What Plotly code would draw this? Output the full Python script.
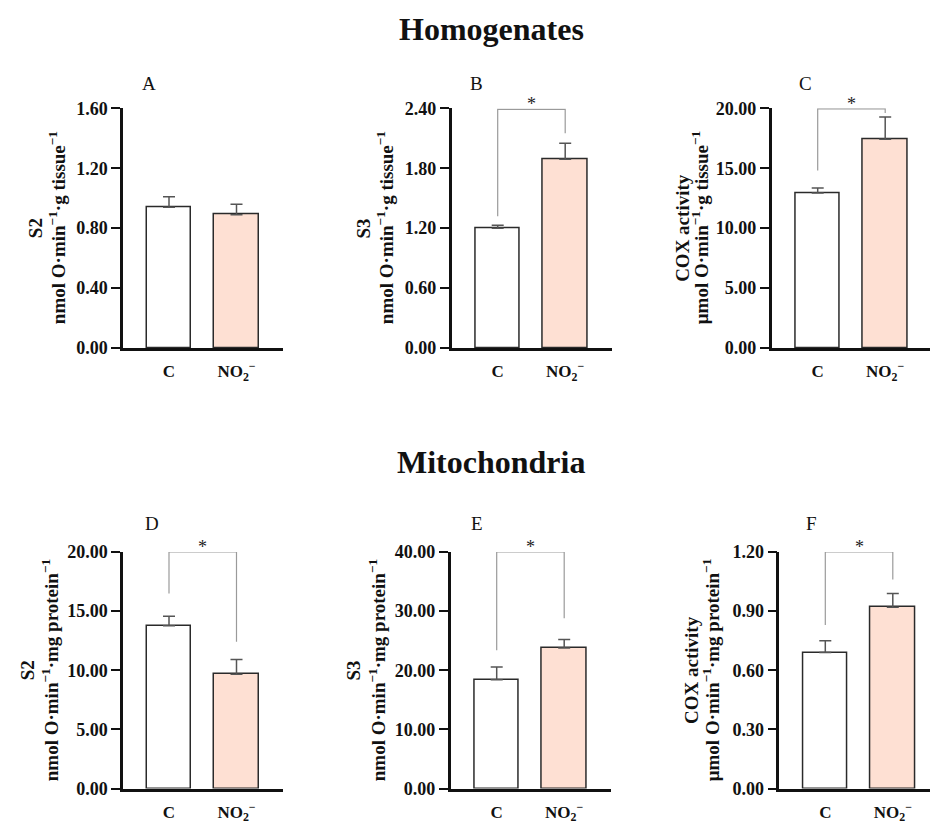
import plotly.graph_objects as go

W, H = 930, 823
FONT = "Liberation Serif"

groups = ["C", "NO2"]
group_labels = ["C", "NO<sub>2</sub><sup>−</sup>"]

panel_letters = ["A", "B", "C", "D", "E", "F"]
section_titles = ["Homogenates", "Mitochondria"]

means_A = [0.94, 0.89]
sem_A = [0.07, 0.07]
means_B = [1.20, 1.89]
sem_B = [0.03, 0.16]
means_C = [12.94, 17.42]
sem_C = [0.42, 1.86]
means_D = [13.77, 9.66]
sem_D = [0.79, 1.24]
means_E = [18.40, 23.78]
sem_E = [2.16, 1.42]
means_F = [0.69, 0.92]
sem_F = [0.06, 0.07]

ymax = [1.6, 2.4, 20.0, 20.0, 40.0, 1.2]

# significance brackets: [left leg end, top, right leg end]; None = no bracket
brackets = [None,
            [1.32, 2.39, 2.15],
            [14.8, 19.95, 19.6],
            [16.5, 20.0, 12.4],
            [23.4, 40.0, 28.8],
            [0.83, 1.2, 1.06]]

ytitle1 = ["S2", "S3", "COX activity", "S2", "S3", "COX activity"]
ytitle2 = ["nmol O·min<sup>−1</sup>·g tissue<sup>−1</sup>",
           "nmol O·min<sup>−1</sup>·g tissue<sup>−1</sup>",
           "μmol O·min<sup>−1</sup>·g tissue<sup>−1</sup>",
           "nmol O·min<sup>−1</sup>·mg protein<sup>−1</sup>",
           "nmol O·min<sup>−1</sup>·mg protein<sup>−1</sup>",
           "μmol O·min<sup>−1</sup>·mg protein<sup>−1</sup>"]

means = [means_A, means_B, means_C, means_D, means_E, means_F]
sems = [sem_A, sem_B, sem_C, sem_D, sem_E, sem_F]

# layout geometry (pixels)
axis_x0 = [123, 451.7, 771.7, 123, 450.7, 779.3]
row_y = [(108.3, 348.0), (552.0, 788.5)]
title1_x = [35, 363.3, 681.7, 27, 353.3, 691.7]
title2_x = [57, 385, 700, 50, 377, 711]
letter_x = [149, 476.7, 805, 151.7, 476.7, 811.7]
letter_y = [84, 523]
section_y = [29, 462]

AX_LEN = 160.0
FIRST = 46.0
STEP = 67.5

def px(x):
    return x / W

def py(y):
    return 1 - y / H

fig = go.Figure()
annotations = []
layout = {}

bar_colors = ["#ffffff", "#fee0d3"]

for i in range(6):
    row = i // 3
    n = "" if i == 0 else str(i + 1)
    xa, ya = "x" + n, "y" + n
    x0 = axis_x0[i]
    x1 = min(x0 + AX_LEN, W)
    y_top, y_bot = row_y[row]
    rng = [-FIRST / STEP, (x1 - x0 - FIRST) / STEP]

    fig.add_trace(go.Bar(
        x=[0, 1], y=means[i], width=0.66,
        marker=dict(color=bar_colors, line=dict(color="#2a2a2a", width=1.5)),
        error_y=dict(type="data", symmetric=False, array=sems[i], arrayminus=[0, 0],
                     color="#555555", thickness=1.5, width=6),
        xaxis=xa, yaxis=ya, showlegend=False, hoverinfo="skip"))

    br = brackets[i]
    if br is not None:
        fig.add_trace(go.Scatter(
            x=[0, 0, 1, 1], y=[br[0], br[1], br[1], br[2]], mode="lines",
            line=dict(color="#9a9a9a", width=1.2), cliponaxis=False,
            xaxis=xa, yaxis=ya, showlegend=False, hoverinfo="skip"))
        annotations.append(dict(
            x=0.5, y=br[1], xref=xa, yref=ya, text="*", showarrow=False,
            xanchor="center", yanchor="bottom", yshift=-7,
            font=dict(family=FONT, size=18, color="#222222")))

    layout["xaxis" + n] = dict(
        domain=[px(x0), px(x1)], range=rng, anchor=ya, automargin=False,
        tickvals=[0, 1], ticktext=group_labels, ticks="",
        showline=True, linecolor="#111111", linewidth=2.5,
        showgrid=False, zeroline=False, fixedrange=True,
        tickfont=dict(family=FONT, size=17, color="#111111", weight="bold"),
        ticklabelstandoff=6)
    layout["yaxis" + n] = dict(
        domain=[py(y_bot), py(y_top)], range=[0, ymax[i]], anchor=xa, automargin=False,
        tickvals=[ymax[i] * k / 4 for k in range(5)], tickformat=".2f",
        ticks="outside", ticklen=9, tickwidth=2, tickcolor="#111111",
        showline=True, linecolor="#111111", linewidth=2.5,
        showgrid=False, zeroline=False, fixedrange=True,
        tickfont=dict(family=FONT, size=18, color="#111111", weight="bold"),
        ticklabelstandoff=0)

    yc = (y_top + y_bot) / 2
    annotations.append(dict(
        x=px(title1_x[i]), y=py(yc), xref="paper", yref="paper",
        text="<b>" + ytitle1[i] + "</b>", textangle=-90, showarrow=False,
        xanchor="center", yanchor="middle",
        font=dict(family=FONT, size=19, color="#111111")))
    annotations.append(dict(
        x=px(title2_x[i]), y=py(yc), xref="paper", yref="paper",
        text="<b>" + ytitle2[i] + "</b>", textangle=-90, showarrow=False,
        xanchor="center", yanchor="middle",
        font=dict(family=FONT, size=19, color="#111111")))
    annotations.append(dict(
        x=px(letter_x[i]), y=py(letter_y[row]), xref="paper", yref="paper",
        text=panel_letters[i], showarrow=False,
        xanchor="center", yanchor="middle",
        font=dict(family=FONT, size=19, color="#111111")))

for r in range(2):
    annotations.append(dict(
        x=px(491.5), y=py(section_y[r]), xref="paper", yref="paper",
        text="<b>" + section_titles[r] + "</b>", showarrow=False,
        xanchor="center", yanchor="middle",
        font=dict(family=FONT, size=32, color="#111111")))

fig.update_layout(
    width=W, height=H, autosize=False,
    margin=dict(l=0, r=0, t=0, b=0, pad=0, autoexpand=False),
    paper_bgcolor="white", plot_bgcolor="white",
    annotations=annotations, bargap=0, **layout)

fig.write_html("out.html", config={"displayModeBar": False},
               post_script="document.body.style.margin='0';document.body.style.overflow='hidden';")
